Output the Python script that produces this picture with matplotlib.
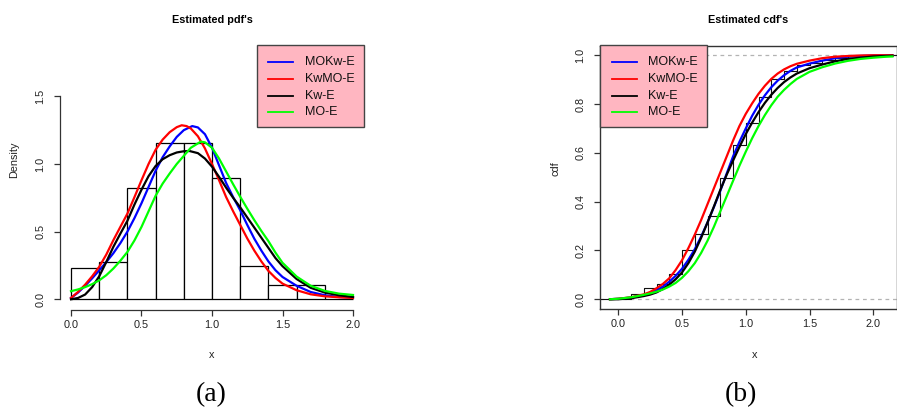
import matplotlib
matplotlib.use("Agg")
import matplotlib.pyplot as plt
from matplotlib.patches import Rectangle
from matplotlib.lines import Line2D

plt.rcParams['font.family'] = ['Liberation Sans', 'DejaVu Sans']

# ---------------- data ----------------
series_names = ["MOKw-E", "KwMO-E", "Kw-E", "MO-E"]
series_colors = ["#0000FF", "#FF0000", "#000000", "#00FF00"]

# histogram (density), bins of width 0.2 from 0 to 2
hist_left = [0.0, 0.2, 0.4, 0.6, 0.8, 1.0, 1.2, 1.4, 1.6, 1.8]
hist_height = [0.23, 0.278, 0.825, 1.155, 1.155, 0.897, 0.246, 0.103, 0.103, 0.0]
bin_width = 0.2

# estimated pdfs
pdf_x_mokw = [0, 0.05, 0.1, 0.15, 0.2, 0.25, 0.3, 0.35, 0.4, 0.45, 0.5, 0.55, 0.6, 0.65, 0.7, 0.75, 0.8, 0.86, 0.9, 0.95,
              1.0, 1.05, 1.1, 1.15, 1.2, 1.25, 1.3, 1.35, 1.4, 1.45, 1.5, 1.6, 1.7, 1.8, 1.9, 2.0]
pdf_y_mokw = [0.01, 0.05, 0.10, 0.155, 0.214, 0.275, 0.34, 0.415, 0.50, 0.60, 0.71, 0.83, 0.95, 1.05, 1.13, 1.20, 1.25, 1.28, 1.27, 1.22,
              1.12, 0.99, 0.86, 0.755, 0.658, 0.55, 0.448, 0.36, 0.28, 0.215, 0.165, 0.10, 0.054, 0.03, 0.017, 0.012]

pdf_x_kwmo = [0, 0.05, 0.1, 0.15, 0.2, 0.25, 0.3, 0.35, 0.4, 0.45, 0.5, 0.55, 0.6, 0.65, 0.7, 0.75, 0.785, 0.82, 0.85, 0.9, 0.95,
              1.0, 1.05, 1.1, 1.15, 1.2, 1.25, 1.3, 1.35, 1.4, 1.45, 1.5, 1.6, 1.7, 1.8, 1.9, 2.0]
pdf_y_kwmo = [0.01, 0.055, 0.108, 0.17, 0.24, 0.33, 0.436, 0.535, 0.633, 0.755, 0.88, 1.0, 1.105, 1.18, 1.235, 1.272, 1.286, 1.28, 1.262, 1.205, 1.115,
              1.0, 0.88, 0.756, 0.65, 0.55, 0.45, 0.36, 0.28, 0.21, 0.158, 0.116, 0.067, 0.037, 0.022, 0.015, 0.01]

pdf_x_kw = [0, 0.05, 0.1, 0.15, 0.2, 0.25, 0.3, 0.35, 0.4, 0.45, 0.5, 0.55, 0.6, 0.65, 0.7, 0.75, 0.8, 0.84, 0.9, 0.95,
            1.0, 1.05, 1.1, 1.15, 1.2, 1.25, 1.3, 1.35, 1.4, 1.45, 1.5, 1.6, 1.7, 1.8, 1.9, 2.0]
pdf_y_kw = [0.0, 0.01, 0.035, 0.09, 0.17, 0.275, 0.387, 0.485, 0.58, 0.70, 0.81, 0.91, 0.985, 1.035, 1.065, 1.085, 1.094, 1.096, 1.08, 1.04,
            0.98, 0.905, 0.825, 0.75, 0.68, 0.605, 0.53, 0.455, 0.38, 0.305, 0.245, 0.15, 0.085, 0.05, 0.03, 0.017]

pdf_x_mo = [0, 0.05, 0.1, 0.15, 0.2, 0.25, 0.3, 0.35, 0.4, 0.45, 0.5, 0.55, 0.6, 0.65, 0.7, 0.75, 0.8, 0.85, 0.92, 0.95,
            1.0, 1.05, 1.1, 1.15, 1.2, 1.25, 1.3, 1.35, 1.4, 1.45, 1.5, 1.6, 1.7, 1.8, 1.9, 2.0]
pdf_y_mo = [0.06, 0.073, 0.09, 0.112, 0.14, 0.178, 0.227, 0.285, 0.35, 0.435, 0.535, 0.65, 0.765, 0.855, 0.93, 1.0, 1.06, 1.12, 1.165, 1.16,
            1.12, 1.04, 0.945, 0.85, 0.758, 0.67, 0.585, 0.505, 0.43, 0.345, 0.27, 0.168, 0.10, 0.062, 0.042, 0.032]

# empirical cdf (step positions and levels)
ecdf_x = [0.1, 0.2, 0.3, 0.4, 0.5, 0.6, 0.7, 0.8, 0.9, 1.0, 1.1, 1.2, 1.3, 1.4, 1.5, 1.6, 1.7, 1.8]
ecdf_y = [0.02, 0.045, 0.061, 0.102, 0.2, 0.266, 0.342, 0.497, 0.634, 0.724, 0.829, 0.904, 0.936, 0.959, 0.97, 0.98, 0.99, 1.0]

# estimated cdfs
cdf_x = [-0.065, 0, 0.1, 0.2, 0.25, 0.3, 0.35, 0.4, 0.45, 0.5, 0.55, 0.6, 0.65, 0.7, 0.75, 0.8, 0.85, 0.9, 0.95,
         1.0, 1.05, 1.1, 1.15, 1.2, 1.25, 1.3, 1.35, 1.4, 1.5, 1.6, 1.7, 1.8, 1.9, 2.0, 2.1, 2.15]
cdf_y_mokw = [0, 0.002, 0.007, 0.017, 0.026, 0.037, 0.052, 0.072, 0.096, 0.125, 0.162, 0.205, 0.257, 0.315, 0.378, 0.444, 0.515, 0.585, 0.645,
              0.70, 0.752, 0.797, 0.836, 0.869, 0.896, 0.918, 0.936, 0.95, 0.966, 0.978, 0.988, 0.994, 0.997, 0.999, 1.0, 1.0]
cdf_y_kwmo = [0, 0.002, 0.008, 0.02, 0.03, 0.045, 0.063, 0.086, 0.12, 0.16, 0.21, 0.265, 0.325, 0.39, 0.455, 0.52, 0.585, 0.65, 0.71,
              0.76, 0.803, 0.842, 0.875, 0.903, 0.925, 0.942, 0.955, 0.965, 0.978, 0.988, 0.994, 0.997, 0.999, 1.0, 1.0, 1.0]
cdf_y_kw = [0, 0.0, 0.004, 0.013, 0.019, 0.028, 0.042, 0.06, 0.082, 0.11, 0.148, 0.195, 0.252, 0.315, 0.38, 0.448, 0.51, 0.568, 0.624,
            0.677, 0.724, 0.767, 0.805, 0.838, 0.866, 0.89, 0.909, 0.925, 0.947, 0.962, 0.975, 0.985, 0.99, 0.995, 0.997, 0.998]
cdf_y_mo = [0, 0.002, 0.008, 0.018, 0.024, 0.031, 0.04, 0.052, 0.067, 0.088, 0.115, 0.148, 0.19, 0.24, 0.297, 0.36, 0.422, 0.485, 0.547,
            0.605, 0.66, 0.71, 0.755, 0.795, 0.83, 0.858, 0.882, 0.903, 0.932, 0.951, 0.966, 0.977, 0.985, 0.99, 0.994, 0.995]

pdf_ticks_x = [0.0, 0.5, 1.0, 1.5, 2.0]
pdf_ticks_y = [0.0, 0.5, 1.0, 1.5]
cdf_ticks_x = [0.0, 0.5, 1.0, 1.5, 2.0]
cdf_ticks_y = [0.0, 0.2, 0.4, 0.6, 0.8, 1.0]

# ---------------- figure ----------------
W, H = 897, 416
fig = plt.figure(figsize=(W / 100, H / 100), dpi=100)
fig.patch.set_facecolor("white")


def rect_px(x0, y0, x1, y1):
    return [x0 / W, 1 - y1 / H, (x1 - x0) / W, (y1 - y0) / H]


def fxy(px, py):
    return px / W, 1 - py / H


TICK_FS = 7.8
LAB_FS = 7.8
LEG_FS = 9.0
AX_COL = "#333333"
CURVE_LW = 1.6

# ---------- left: pdf ----------
ax1 = fig.add_axes(rect_px(60, 45.7, 364, 310))
ax1.set_xlim(-0.078, 2.078)
ax1.set_ylim(-0.079, 1.874)
ax1.bar(hist_left, hist_height, width=bin_width, align="edge",
        facecolor="white", edgecolor="black", linewidth=0.9, zorder=1)
pdf_sets = [(pdf_x_mokw, pdf_y_mokw), (pdf_x_kwmo, pdf_y_kwmo),
            (pdf_x_kw, pdf_y_kw), (pdf_x_mo, pdf_y_mo)]
for (xs, ys), c in zip(pdf_sets, series_colors):
    ax1.plot(xs, ys, color=c, lw=CURVE_LW, zorder=3, solid_joinstyle="round")
for s in ["top", "right"]:
    ax1.spines[s].set_visible(False)
ax1.spines["left"].set_bounds(0, 1.5)
ax1.spines["bottom"].set_bounds(0, 2.0)
for s in ["left", "bottom"]:
    ax1.spines[s].set_color(AX_COL)
    ax1.spines[s].set_linewidth(0.9)
ax1.set_xticks(pdf_ticks_x)
ax1.set_xticklabels([f"{v:.1f}" for v in pdf_ticks_x])
ax1.set_yticks(pdf_ticks_y)
ax1.set_yticklabels([f"{v:.1f}" for v in pdf_ticks_y], rotation=90, va="center")
ax1.tick_params(direction="out", length=4.5, width=0.9, color=AX_COL,
                labelsize=TICK_FS, labelcolor="#222222")
ax1.tick_params(axis="y", pad=6)
ax1.tick_params(axis="x", pad=3)
ax1.patch.set_alpha(0)

# ---------- right: cdf ----------
ax2 = fig.add_axes(rect_px(600, 45.5, 897, 309))
ax2.set_xlim(-0.1435, 2.186)
ax2.set_ylim(-0.04, 1.04)
ax2.axhline(0, color="#b3b3b3", lw=0.9, ls=(0, (3, 3)), zorder=1)
ax2.axhline(1, color="#b3b3b3", lw=0.9, ls=(0, (3, 3)), zorder=1)
sx = [-1.0] + ecdf_x + [5.0]
sy = [0.0] + ecdf_y + [ecdf_y[-1]]
ax2.step(sx, sy, where="post", color="#111111", lw=0.8, zorder=2)
for ys, c in zip([cdf_y_mokw, cdf_y_kwmo, cdf_y_kw, cdf_y_mo], series_colors):
    ax2.plot(cdf_x, ys, color=c, lw=CURVE_LW, zorder=3, solid_joinstyle="round")
for s in ax2.spines.values():
    s.set_color(AX_COL)
    s.set_linewidth(1.0)
ax2.set_xticks(cdf_ticks_x)
ax2.set_xticklabels([f"{v:.1f}" for v in cdf_ticks_x])
ax2.set_yticks(cdf_ticks_y)
ax2.set_yticklabels([f"{v:.1f}" for v in cdf_ticks_y], rotation=90, va="center")
ax2.tick_params(direction="out", length=4.5, width=0.9, color=AX_COL,
                labelsize=TICK_FS, labelcolor="#222222")
ax2.tick_params(axis="y", pad=6)
ax2.tick_params(axis="x", pad=3)

# ---------- legends (drawn manually in figure pixels) ----------
def draw_legend(x0, x1, y0, y1, lx0, lx1, tx, rows):
    fx0, fy1 = fxy(x0, y1)
    fig.add_artist(Rectangle((fx0, fy1), (x1 - x0) / W, (y1 - y0) / H,
                             transform=fig.transFigure, facecolor="#FFB6C1",
                             edgecolor="#444444", lw=1.0, zorder=5))
    for name, col, ry in zip(series_names, series_colors, rows):
        a, b = fxy(lx0, ry)
        c, _ = fxy(lx1, ry)
        fig.add_artist(Line2D([a, c], [b, b], transform=fig.transFigure,
                              color=col, lw=1.3, zorder=6))
        t, _ = fxy(tx, ry)
        fig.text(t, b, name, fontsize=LEG_FS, va="center", ha="left",
                 color="#111111", zorder=7)


rows = [62.3, 79.0, 95.8, 112.0]
draw_legend(257, 364, 45.0, 127.0, 268, 293, 305, rows)
draw_legend(600, 707, 45.5, 127.0, 611.5, 636.5, 648, rows)

# ---------- titles and labels ----------
x, y = fxy(212, 20)
fig.text(x, y, "Estimated pdf's", fontsize=7.8, fontweight="bold", ha="center", va="center")
x, y = fxy(748.5, 20)
fig.text(x, y, "Estimated cdf's", fontsize=7.8, fontweight="bold", ha="center", va="center")
x, y = fxy(14, 160)
fig.text(x, y, "Density", fontsize=LAB_FS, rotation=90, ha="center", va="center", color="#222222")
x, y = fxy(555, 169)
fig.text(x, y, "cdf", fontsize=LAB_FS, rotation=90, ha="center", va="center", color="#222222")
x, y = fxy(212, 355)
fig.text(x, y, "x", fontsize=LAB_FS, ha="center", va="center", color="#222222")
x, y = fxy(755, 355)
fig.text(x, y, "x", fontsize=LAB_FS, ha="center", va="center", color="#222222")

x, y = fxy(211, 395)
fig.text(x, y, "(a)", fontsize=20, ha="center", va="center", family="Liberation Serif")
x, y = fxy(741, 395)
fig.text(x, y, "(b)", fontsize=20, ha="center", va="center", family="Liberation Serif")

fig.savefig("out.png", dpi=100, facecolor="white")
